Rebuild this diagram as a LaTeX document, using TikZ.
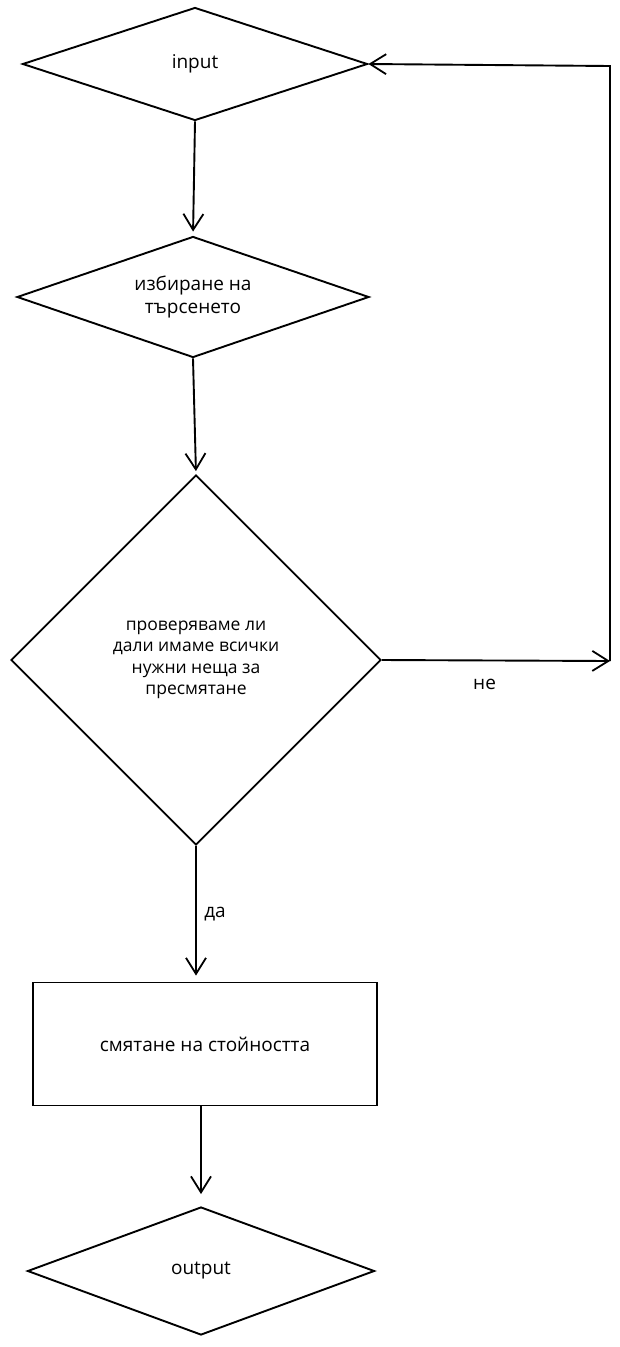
\documentclass[tikz,border=0pt]{standalone}
\usepackage{fontspec}
\setmainfont{Open Sans}
\usetikzlibrary{shapes.geometric,arrows.meta}

\begin{document}
\begin{tikzpicture}[>={Straight Barb[length=16pt,width=20pt,line width=1.8pt]},
  x=1pt,y=-1pt,
  line width=1.9pt,
  decision/.style={diamond,draw,inner sep=0pt,align=center,
    font=\fontsize{19}{23}\selectfont},
  process/.style={rectangle,draw,inner sep=0pt,align=center,
    font=\fontsize{19}{23}\selectfont},
  edgelabel/.style={font=\fontsize{19}{23}\selectfont}]

% Рамка на картинката
\fill[white] (0,0) rectangle (620,1347);
\useasboundingbox (0,0) rectangle (620,1347);

%=== Блокове ===
\node[decision,aspect=3,minimum width=345pt,minimum height=113pt] (in) at (195,64) {input};
\node[decision,aspect=2.9,minimum width=352pt,minimum height=121pt] (search) at (193,297)
  {избиране на\\търсенето};
\node[decision,aspect=1,minimum width=370pt,minimum height=370pt,
  font=\fontsize{17.5}{21.5}\selectfont] (check) at (196,660)
  {проверяваме ли\\дали имаме всички\\нужни неща за\\пресмятане};
\node[process,minimum width=344pt,minimum height=123pt] (calc) at (205,1044)
  {смятане на стойността};
\node[decision,aspect=2.7,minimum width=347pt,minimum height=128pt] (out) at (201,1271) {output};

% Ъгли на обратната връзка
\coordinate (loopB) at (610,661);
\coordinate (loopA) at (610,66);

%=== Стрелки ===
\draw[->,shorten >=4pt] (in.south) -- (search.north);
\draw[->,shorten >=3pt] (search.south) -- (check.north);
\draw[->,shorten >=6pt] (check.south) -- (check.south |- calc.north)
  node[midway,right=4pt,edgelabel]{да};
\draw[->,shorten >=12pt] (out.north |- calc.south) -- (out.north);

% Клон "не" обратно към input
\draw[->] (check.east) -- (loopB)
  node[pos=0.45,below=14pt,edgelabel]{не};
\draw[->] (loopB) -- (loopA) -- (in.east);

\end{tikzpicture}
\end{document}
